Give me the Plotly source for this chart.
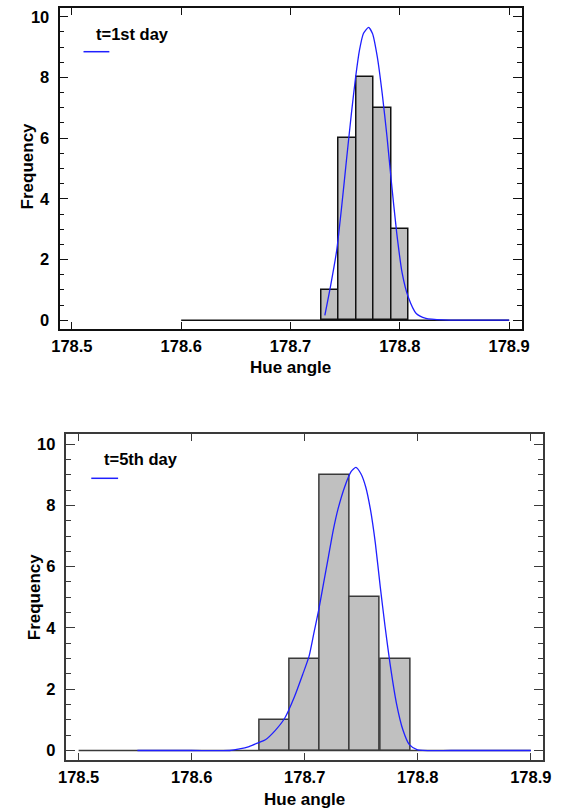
import plotly.graph_objects as go

# ---- Day 1 histogram ----
day1_bin_left = [178.728, 178.744, 178.760, 178.776, 178.792]
day1_bin_width = 0.016
day1_counts = [1, 6, 8, 7, 3]
day1_hist_span = [178.6, 178.9]
day1_fit_x = [178.7314, 178.7365, 178.7423, 178.7468, 178.7512, 178.7557, 178.7596,
              178.7631, 178.7667, 178.7714, 178.7750, 178.7794, 178.7839, 178.7883,
              178.7921, 178.7972, 178.8022, 178.8076, 178.8150, 178.8238, 178.8400,
              178.8700, 178.9000]
day1_fit_y = [0.16, 1.10, 2.31, 3.74, 5.28, 6.81, 8.02, 8.90, 9.45, 9.65, 9.45, 8.68,
              7.47, 6.04, 4.62, 2.86, 1.54, 0.77, 0.22, 0.06, 0.01, 0.0, 0.0]
day1_label = "t=1st day"

# ---- Day 5 histogram ----
day5_bin_left = [178.6600, 178.6867, 178.7133, 178.7400, 178.7667]
day5_bin_width = 0.02667
day5_counts = [1, 3, 9, 5, 3]
day5_hist_span = [178.5, 178.9]
day5_fit_x = [178.5520, 178.6000, 178.6337, 178.6423, 178.6508, 178.6594, 178.6652,
              178.6738, 178.6824, 178.6910, 178.6981, 178.7038, 178.7081, 178.7124,
              178.7167, 178.7210, 178.7253, 178.7296, 178.7354, 178.7410, 178.7453,
              178.7496, 178.7539, 178.7582, 178.7625, 178.7668, 178.7711, 178.7754,
              178.7811, 178.7869, 178.7926, 178.7998, 178.8300, 178.9000]
day5_fit_y = [0.0, 0.0, 0.0, 0.05, 0.13, 0.26, 0.35, 0.65, 1.06, 1.76, 2.47, 3.07, 3.83,
              4.59, 5.46, 6.33, 7.20, 7.90, 8.61, 9.10, 9.24, 9.04, 8.61, 7.85, 6.76,
              5.35, 4.04, 2.85, 1.55, 0.67, 0.19, 0.02, 0.0, 0.0]
day5_label = "t=5th day"

x_tick_vals = [178.5, 178.6, 178.7, 178.8, 178.9]
x_tick_text = ["178.5", "178.6", "178.7", "178.8", "178.9"]
y_tick_vals = [0, 2, 4, 6, 8, 10]
x_title = "Hue angle"
y_title = "Frequency"

W, H = 566, 809
FONT = "Liberation Sans, Arial, sans-serif"
BAR_FILL = "#c0c0c0"
CURVE = "#1f1fff"


def px_x(p):
    return p / W


def px_y(p):
    return 1 - p / H


fig = go.Figure()


def add_panel(idx, lefts, width, counts, span, fx, fy, edge_color):
    xa = "x" if idx == 1 else "x2"
    ya = "y" if idx == 1 else "y2"
    fig.add_trace(go.Scatter(x=span, y=[0, 0], mode="lines",
                             line=dict(color=edge_color, width=1.5),
                             xaxis=xa, yaxis=ya, showlegend=False, hoverinfo="skip"))
    fig.add_trace(go.Bar(x=[l + width / 2 for l in lefts], y=counts,
                         width=[width] * len(counts),
                         marker=dict(color=BAR_FILL, line=dict(color=edge_color, width=1.5)),
                         xaxis=xa, yaxis=ya, showlegend=False))
    fig.add_trace(go.Scatter(x=fx, y=fy, mode="lines",
                             line=dict(color=CURVE, width=1.3, shape="spline", smoothing=0.6),
                             xaxis=xa, yaxis=ya, showlegend=False))


add_panel(1, day1_bin_left, day1_bin_width, day1_counts, day1_hist_span,
          day1_fit_x, day1_fit_y, "#111111")
add_panel(2, day5_bin_left, day5_bin_width, day5_counts, day5_hist_span,
          day5_fit_x, day5_fit_y, "#3a3a3a")

tickfont = dict(family=FONT, size=16.5, color="black", weight="bold")


def xaxis_cfg(dom, rng, color, anchor):
    return dict(domain=dom, range=rng, anchor=anchor, tickvals=x_tick_vals,
                ticktext=x_tick_text, ticks="inside", ticklen=7, tickwidth=1.3,
                tickcolor=color, showline=True, linecolor=color, linewidth=1.8,
                mirror="ticks", showgrid=False, zeroline=False, tickfont=tickfont,
                ticklabelstandoff=1, fixedrange=True)


def yaxis_cfg(dom, rng, color, anchor):
    return dict(domain=dom, range=rng, anchor=anchor, tickvals=y_tick_vals,
                ticks="inside", ticklen=9, tickwidth=1.3, tickcolor=color,
                minor=dict(dtick=0.5, ticks="inside", ticklen=5, tickcolor=color,
                           tickwidth=1.2, showgrid=False),
                showline=True, linecolor=color, linewidth=1.8, mirror="ticks",
                showgrid=False, zeroline=False, tickfont=tickfont,
                ticklabelstandoff=5, fixedrange=True)


fig.update_layout(
    width=W, height=H, autosize=False,
    margin=dict(l=0, r=0, t=0, b=0),
    paper_bgcolor="white", plot_bgcolor="white",
    bargap=0,
    xaxis=xaxis_cfg([px_x(53), px_x(529)], [178.4887, 178.9118], "#111111", "y"),
    yaxis=yaxis_cfg([px_y(329), px_y(8)], [-0.29, 10.29], "#111111", "x"),
    xaxis2=xaxis_cfg([px_x(59.3), px_x(550.7)], [178.4885, 178.9109], "#3a3a3a", "y2"),
    yaxis2=yaxis_cfg([px_y(760), px_y(434)], [-0.31, 10.33], "#3a3a3a", "x2"),
)

title_font = dict(family=FONT, size=17, color="black", weight="bold")
legend_font = dict(family=FONT, size=16.5, color="black", weight="bold")

annotations = [
    dict(x=px_x(291), y=px_y(367), text=x_title, font=title_font),
    dict(x=px_x(21), y=px_y(166), text=y_title, font=title_font, textangle=-90),
    dict(x=px_x(305), y=px_y(799), text=x_title, font=title_font),
    dict(x=px_x(27), y=px_y(597), text=y_title, font=title_font, textangle=-90),
]
for a in annotations:
    a.update(xref="paper", yref="paper", showarrow=False, xanchor="center", yanchor="middle")

# legend entries: label plus a short line sample underneath
annotations += [
    dict(x=px_x(89), y=px_y(34), text=day1_label, font=legend_font, xref="paper",
         yref="paper", showarrow=False, xanchor="left", yanchor="middle"),
    dict(x=px_x(97), y=px_y(459), text=day5_label, font=legend_font, xref="paper",
         yref="paper", showarrow=False, xanchor="left", yanchor="middle"),
]
fig.update_layout(annotations=annotations)

fig.add_shape(type="line", xref="paper", yref="paper",
              x0=px_x(77.7), x1=px_x(104.3), y0=px_y(51.7), y1=px_y(51.7),
              line=dict(color=CURVE, width=1.5))
fig.add_shape(type="line", xref="paper", yref="paper",
              x0=px_x(85.7), x1=px_x(113.3), y0=px_y(478.3), y1=px_y(478.3),
              line=dict(color=CURVE, width=1.5))

fig.write_html("out.html")
